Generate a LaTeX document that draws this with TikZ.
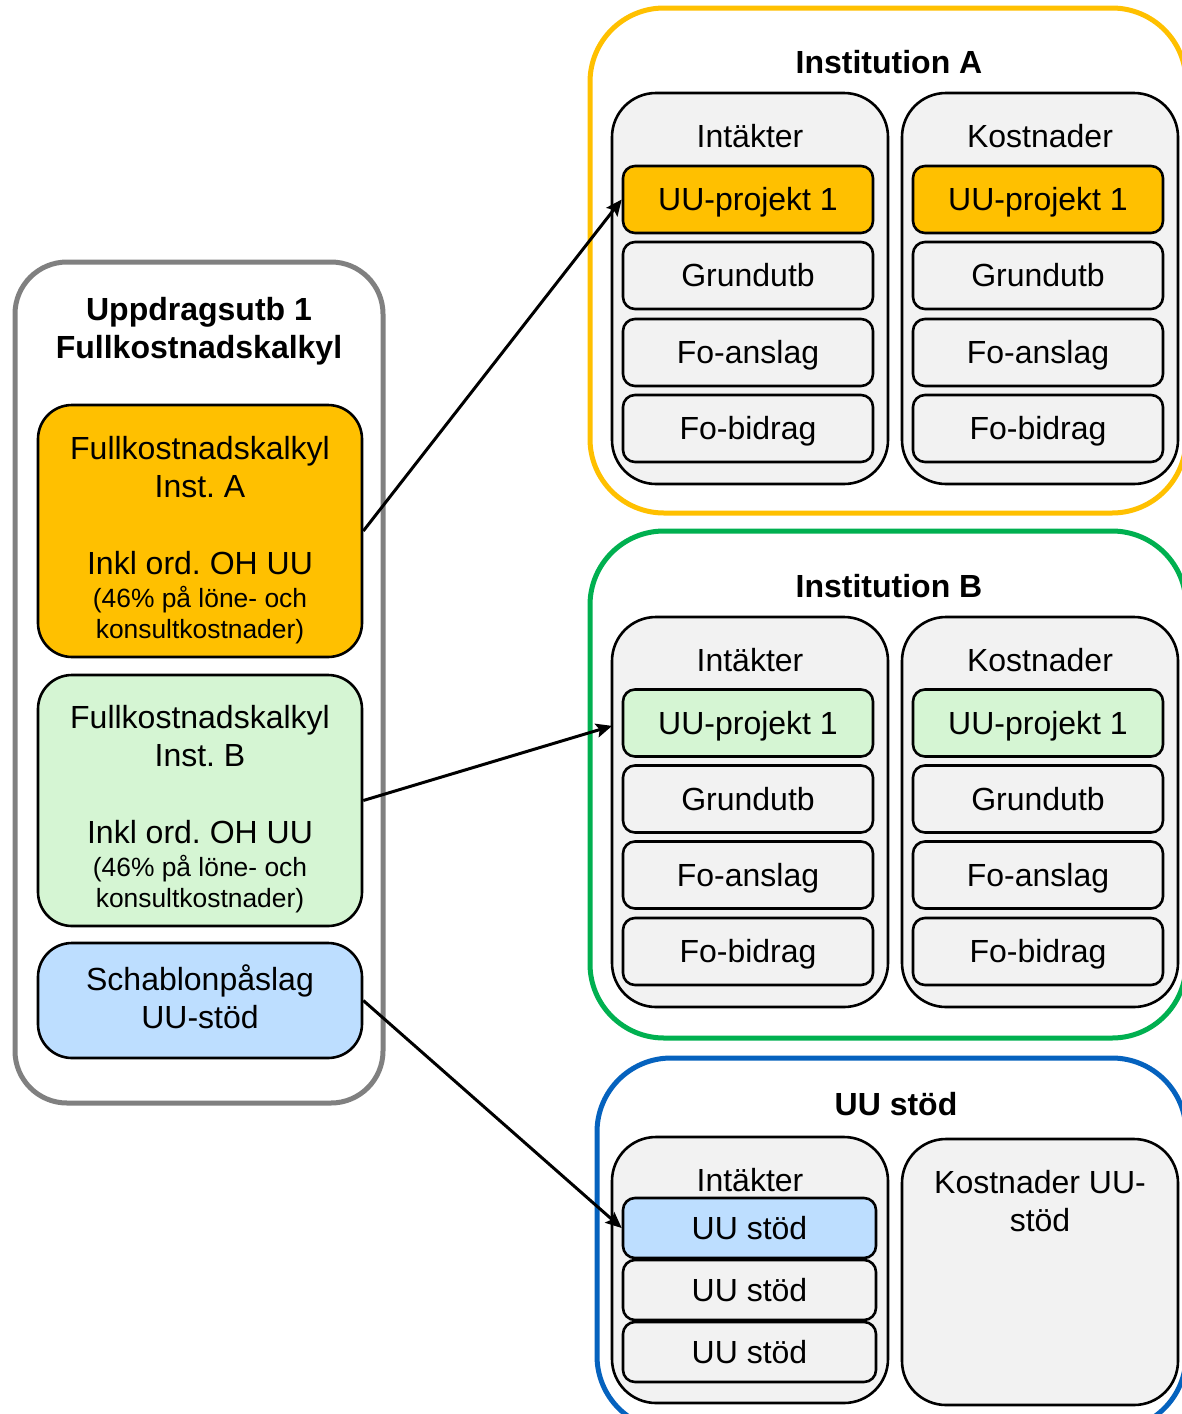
\documentclass[tikz,border=0pt]{standalone}
\usepackage{fontspec}
\setmainfont{Liberation Sans}
\usetikzlibrary{arrows.meta,fit}
\frenchspacing

\definecolor{instA}{HTML}{FFC000}
\definecolor{instB}{HTML}{00B050}
\definecolor{uublue}{HTML}{0562BE}
\definecolor{lightgreen}{HTML}{D5F5D3}
\definecolor{lightblue}{HTML}{BDDEFF}
\definecolor{panelgray}{HTML}{F2F2F2}
\definecolor{framegray}{HTML}{808080}

\newcommand{\bodyfont}{\fontsize{16}{19}\selectfont}
\newcommand{\notefont}{\fontsize{13.2}{15.5}\selectfont}

\tikzset{
  outer/.style={line width=2.5pt, rounded corners=37pt, inner sep=0pt, fill=white},
  panel/.style={draw=black, line width=1.3pt, fill=panelgray, rounded corners=22pt, inner sep=0pt},
  item/.style={draw=black, line width=1.3pt, fill=panelgray, rounded corners=6pt, inner sep=0pt,
    minimum width=125pt, minimum height=33.5pt,
    font=\bodyfont, text height=11.45pt, text depth=0pt},
  smallitem/.style={item, minimum width=126.5pt, minimum height=30pt},
  card/.style={draw=black, line width=1.3pt, rounded corners=17pt, inner sep=0pt},
  heading/.style={font=\bfseries\bodyfont, align=center, inner sep=0pt, text height=11.45pt, text depth=0pt},
  label/.style={font=\bodyfont, align=center, inner sep=0pt, text height=11.45pt, text depth=0pt},
  note/.style={font=\notefont, align=center, inner sep=0pt, text height=9.45pt, text depth=0pt},
  link/.style={-{Stealth[length=8pt,width=7pt,inset=1.5pt]}, line width=1.5pt, black}
}

\begin{document}
\begin{tikzpicture}[x=0.5pt,y=-0.5pt]
\useasboundingbox (0,0) rectangle (1182,1414);

% ---------- left: full cost calculation ----------
\node[outer, draw=framegray, rounded corners=26pt, fit={(15,262) (383,1103)}] (calc) {};
\node[heading] (calctitle) at (199,347) {Uppdragsutb 1\\Fullkostnadskalkyl};

\node[card, fill=instA, fit={(38,405) (362,657)}] (cardA) {};
\node[label] (cardAname) at (200,486) {Fullkostnadskalkyl\\Inst. A};
\node[label] (cardAoh) at (200,563) {Inkl ord. OH UU};
\node[note] (cardAnote) at (200,629.5) {(46\% på löne- och\\konsultkostnader)};

\node[card, fill=lightgreen, fit={(38,675) (362,926)}] (cardB) {};
\node[label] (cardBname) at (200,755) {Fullkostnadskalkyl\\Inst. B};
\node[label] (cardBoh) at (200,832) {Inkl ord. OH UU};
\node[note] (cardBnote) at (200,898.5) {(46\% på löne- och\\konsultkostnader)};

\node[card, fill=lightblue, fit={(38,943) (362,1058)}] (cardS) {};
\node[label] (cardSname) at (200,1017) {Schablonpåslag\\UU-stöd};

% ---------- Institution A ----------
\node[outer, draw=instA, fit={(590,8) (1186,513)}] (instA) {};
\node[heading] (instAtitle) at (889,62) {Institution A};
\node[panel, fit={(612,93) (888,484)}] (instAin) {};
\node[panel, fit={(902,93) (1178,484)}] (instAout) {};
\node[label] (instAinlbl) at (750,136) {Intäkter};
\node[label] (instAoutlbl) at (1040,136) {Kostnader};
\node[item, fill=instA] (instAinUU) at (748,199.5) {UU-projekt 1};
\node[item] (instAinGU) at (748,275.5) {Grundutb};
\node[item] (instAinFA) at (748,352.5) {Fo-anslag};
\node[item] (instAinFB) at (748,428.5) {Fo-bidrag};
\node[item, fill=instA] (instAoutUU) at (1038,199.5) {UU-projekt 1};
\node[item] (instAoutGU) at (1038,275.5) {Grundutb};
\node[item] (instAoutFA) at (1038,352.5) {Fo-anslag};
\node[item] (instAoutFB) at (1038,428.5) {Fo-bidrag};

% ---------- Institution B ----------
\node[outer, draw=instB, fit={(590,531) (1186,1038)}] (instB) {};
\node[heading] (instBtitle) at (889,586) {Institution B};
\node[panel, fit={(612,617) (888,1007)}] (instBin) {};
\node[panel, fit={(902,617) (1178,1007)}] (instBout) {};
\node[label] (instBinlbl) at (750,660) {Intäkter};
\node[label] (instBoutlbl) at (1040,660) {Kostnader};
\node[item, fill=lightgreen] (instBinUU) at (748,723) {UU-projekt 1};
\node[item] (instBinGU) at (748,799) {Grundutb};
\node[item] (instBinFA) at (748,875) {Fo-anslag};
\node[item] (instBinFB) at (748,951.5) {Fo-bidrag};
\node[item, fill=lightgreen] (instBoutUU) at (1038,723) {UU-projekt 1};
\node[item] (instBoutGU) at (1038,799) {Grundutb};
\node[item] (instBoutFA) at (1038,875) {Fo-anslag};
\node[item] (instBoutFB) at (1038,951.5) {Fo-bidrag};

% ---------- UU support ----------
\node[outer, draw=uublue, fit={(597,1058) (1186,1430)}] (uus) {};
\node[heading] (uustitle) at (896,1104) {UU stöd};
\node[panel, fit={(612,1137) (888,1403)}] (uusin) {};
\node[panel, fit={(902,1139) (1178,1405)}] (uusout) {};
\node[label] (uusinlbl) at (750,1180) {Intäkter};
\node[label] (uusoutlbl) at (1040,1220) {Kostnader UU-\\stöd};
\node[smallitem, fill=lightblue] (uusin1) at (749.5,1228) {UU stöd};
\node[smallitem] (uusin2) at (749.5,1290) {UU stöd};
\node[smallitem] (uusin3) at (749.5,1352) {UU stöd};

% ---------- allocation arrows ----------
\draw[link] (cardA.east) -- (instAinUU.west);
\draw[link, shorten >=5pt] (cardB.east) -- (instBinUU.west);
\draw[link] (cardS.east) -- (uusin1.west);
\end{tikzpicture}
\end{document}
